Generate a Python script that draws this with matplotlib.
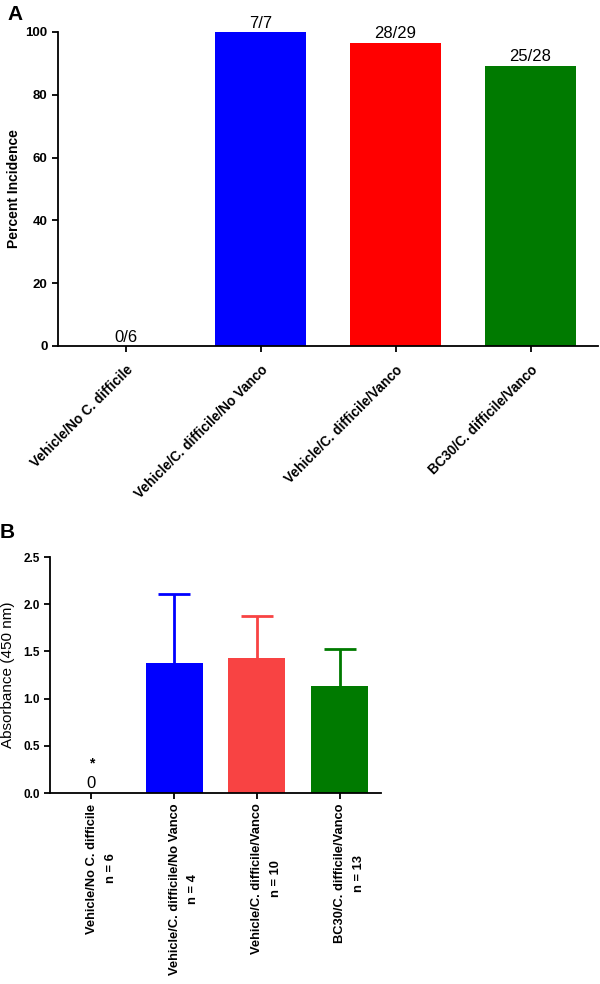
import numpy as np
import matplotlib
matplotlib.use("Agg")
import matplotlib.pyplot as plt
import matplotlib.transforms as mtransforms

plt.rcParams["font.family"] = ["Liberation Sans", "DejaVu Sans"]

# --- data ---
groups = ["Vehicle/No C. difficile", "Vehicle/C. difficile/No Vanco",
          "Vehicle/C. difficile/Vanco", "BC30/C. difficile/Vanco"]
incidence = [0.0, 100.0, 96.55, 89.29]
incidence_labels = ["0/6", "7/7", "28/29", "25/28"]
absorbance = [0.0, 1.38, 1.43, 1.13]
absorbance_sd = [0.0, 0.73, 0.45, 0.40]
n_counts = [6, 4, 10, 13]

colors_a = ["#FFFFFF", "#0000FF", "#FF0000", "#007A00"]
colors_b = ["#FFFFFF", "#0000FF", "#F84343", "#007A00"]

fig = plt.figure(figsize=(6, 9.84), dpi=100)
ax_a = fig.add_axes([0.0967, 0.6484, 0.90, 0.3191])
ax_b = fig.add_axes([0.0833, 0.1941, 0.5517, 0.2398])

x = np.arange(len(groups))

for ax in (ax_a, ax_b):
    for side in ("top", "right"):
        ax.spines[side].set_visible(False)
    for side in ("left", "bottom"):
        ax.spines[side].set_linewidth(1.3)
    ax.tick_params(direction="out", length=4, width=1.3)
    ax.set_xlim(-0.5, 3.5)

# --- panel A ---
ax_a.bar(x, incidence, width=0.68, color=colors_a)
for xi, v, lab in zip(x, incidence, incidence_labels):
    ax_a.annotate(lab, (xi, v), xytext=(0, 1), textcoords="offset points",
                  ha="center", va="bottom", fontsize=12)
ax_a.set_ylim(0, 100)
ax_a.set_yticks([0, 20, 40, 60, 80, 100])
ax_a.set_ylabel("Percent Incidence", fontsize=10, fontweight="bold", labelpad=3)
ax_a.set_xticks(x)
ax_a.set_xticklabels(groups, rotation=45, ha="right", rotation_mode="anchor",
                     fontsize=9.8, fontweight="bold")
ax_a.tick_params(axis="x", pad=8)
for lab in ax_a.get_yticklabels():
    lab.set_fontweight("bold")
    lab.set_fontsize(9.5)

# --- panel B ---
ax_b.bar(x, absorbance, width=0.69, color=colors_b)
for xi, v, e, c in zip(x[1:], absorbance[1:], absorbance_sd[1:], colors_b[1:]):
    _, caps, _ = ax_b.errorbar(xi, v, yerr=[[0], [e]], color=c, capsize=11.5,
                               capthick=2, elinewidth=2)
    caps[0].set_visible(False)
ax_b.text(x[0], absorbance[0] + 0.02, "0", ha="center", va="bottom", fontsize=12)
ax_b.text(x[0], absorbance[0] + 0.24, "*", ha="center", va="bottom", fontsize=10,
          fontweight="bold")
ax_b.set_ylim(0, 2.5)
ax_b.set_yticks([0.0, 0.5, 1.0, 1.5, 2.0, 2.5])
ax_b.set_yticklabels([f"{t:.1f}" for t in ax_b.get_yticks()], fontsize=8.5,
                     fontweight="bold")
ax_b.set_ylabel("Absorbance (450 nm)", fontsize=11, labelpad=6)
ax_b.set_xticks(x)
ax_b.set_xticklabels([f"{g}\nn = {n}" for g, n in zip(groups, n_counts)],
                     rotation=90, fontsize=9.3, fontweight="bold", va="top",
                     ha="center", multialignment="center", linespacing=1.75)
shift = mtransforms.ScaledTranslation(10 / 100, 0, fig.dpi_scale_trans)
for lab in ax_b.get_xticklabels():
    lab.set_transform(lab.get_transform() + shift)

fig.text(0.013, 0.995, "A", fontsize=15, fontweight="bold", va="top", ha="left")
fig.text(0.0, 0.468, "B", fontsize=15, fontweight="bold", va="top", ha="left")

fig.savefig("out.png", dpi=100)
